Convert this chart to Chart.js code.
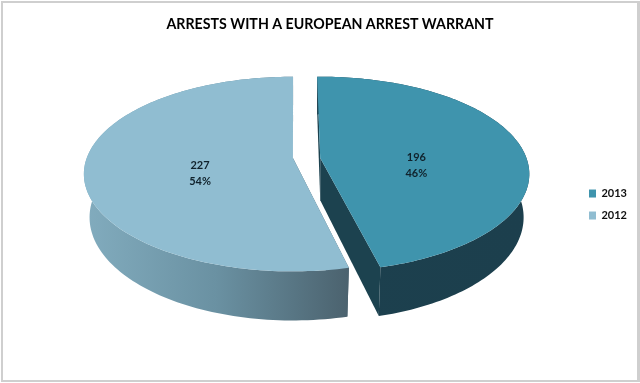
<!DOCTYPE html>
<html>
<head>
<meta charset="utf-8">
<title>Arrests with a European Arrest Warrant</title>
<script src="https://cdn.jsdelivr.net/npm/chart.js@4"></script>
<style>
    body { margin: 0; background: #fff; }
    #wrap { position: relative; width: 640px; height: 383px; }
    #frame { position: absolute; left: 1px; top: 1px; right: 0; bottom: 1px; border: solid #cfcfcf; border-width: 2px 3px 2px 2px; box-sizing: border-box; pointer-events: none; }
</style>
</head>
<body>
<div id="wrap">
    <canvas id="arrestChart" width="640" height="383"></canvas>
    <div id="frame"></div>
</div>
<script>
const categories = ['2013', '2012'];
const arrests = [196, 227];
const shares = ['46%', '54%'];

const topColors = ['#3f94ad', '#90bdd1'];

// tilted camera, everything is a fraction of the radius chart.js gives the pie
const camera = {
    rx: 1.285, ry: 0.59, persp: 0.165, lift: -0.29,
    bottomRx: 1.25, bottomRy: 0.625, bottomDrop: 0.264,
    explode: [0.123, -0.047],
    spin: [0, 0.018],
    labelR: [0.475, 0.45],
    labelShift: [0.083, 0.058]
};

function project(arc, i, angle, bottom) {
    let a = angle + camera.spin[i];
    return rimPoint(arc, i, Math.cos(a), Math.sin(a), arc.outerRadius, bottom);
}

function rimPoint(arc, i, u, v, R, bottom) {
    let w = 1 - camera.persp * v;
    let cx = arc.x + camera.explode[i] * R;
    let cy = arc.y + camera.lift * R + (bottom ? camera.bottomDrop * R : 0);
    let rx = (bottom ? camera.bottomRx : camera.rx) * R;
    let ry = (bottom ? camera.bottomRy : camera.ry) * R;
    return { x: cx + rx * u / w, y: cy + ry * v / w };
}

function fillPath(ctx, points, fill) {
    ctx.beginPath();
    points.forEach(function (p, n) {
        if (n == 0) ctx.moveTo(p.x, p.y);
        else ctx.lineTo(p.x, p.y);
    });
    ctx.closePath();
    ctx.fillStyle = fill;
    ctx.fill();
}

function wallFill(ctx, i, left, right) {
    let g = ctx.createLinearGradient(left, 0, right, 0);
    if (i == 0) {
        g.addColorStop(0, '#1c404e');
        g.addColorStop(1, '#1c3f4d');
    } else {
        g.addColorStop(0, '#82acbe');
        g.addColorStop(0.5, '#6a91a2');
        g.addColorStop(1, '#4b626e');
    }
    return g;
}

const pie3d = {
    id: 'pie3d',
    beforeDatasetDraw(chart) {
        const ctx = chart.ctx;
        const arcs = chart.getDatasetMeta(0).data;
        arcs.forEach(function (arc, i) {
            let R = arc.outerRadius;
            let steps = 140;
            let top = [];
            let bottom = [];
            for (let s = 0; s <= steps; s++) {
                let a = arc.startAngle + (arc.endAngle - arc.startAngle) * s / steps;
                top.push(project(arc, i, a, false));
                bottom.push(project(arc, i, a, true));
            }
            let apexTop = rimPoint(arc, i, 0, 0, R, false);
            let apexBottom = rimPoint(arc, i, 0, 0, R, true);
            let xs = top.map(function (p) { return p.x; });
            let left = Math.min.apply(null, xs);
            let right = Math.max.apply(null, xs);

            // cut faces first, the top covers what should not show
            let cutColor = '#1c424f';
            fillPath(ctx, [top[0], apexTop, apexBottom, bottom[0]], i == 0 ? cutColor : '#4b626e');
            fillPath(ctx, [apexTop, top[steps], bottom[steps], apexBottom], i == 0 ? cutColor : '#4b626e');
            // outer wall
            fillPath(ctx, top.concat(bottom.slice().reverse()), wallFill(ctx, i, left, right));
            // top face
            fillPath(ctx, [apexTop].concat(top), arc.options.backgroundColor);
        });

        // value and share labels
        ctx.fillStyle = '#10222c';
        ctx.font = 'bold 11px Lato';
        ctx.textAlign = 'center';
        ctx.textBaseline = 'middle';
        arcs.forEach(function (arc, i) {
            let R = arc.outerRadius;
            let mid = (arc.startAngle + arc.endAngle) / 2;
            let p = rimPoint(arc, i, Math.cos(mid) * camera.labelR[i], Math.sin(mid) * camera.labelR[i], R, false);
            let y = p.y + camera.labelShift[i] * R;
            ctx.fillText(String(arrests[i]), p.x, y - 8);
            ctx.fillText(shares[i], p.x, y + 8);
        });
        return false;
    }
};

new Chart(document.getElementById('arrestChart'), {
    type: 'pie',
    data: {
        labels: categories,
        datasets: [{
            data: arrests,
            backgroundColor: topColors,
            borderWidth: 0
        }]
    },
    options: {
        responsive: false,
        animation: false,
        rotation: -1,
        layout: { padding: { left: 23, right: 3, top: 0, bottom: 18 } },
        plugins: {
            title: {
                display: true,
                text: 'ARRESTS WITH A EUROPEAN ARREST WARRANT',
                color: '#000',
                font: { family: 'Lato', size: 14.2, weight: 'bold' },
                padding: { top: 16, bottom: 11 }
            },
            legend: {
                position: 'right',
                fullSize: false,
                labels: {
                    boxWidth: 7,
                    boxHeight: 8,
                    padding: 11,
                    color: '#111',
                    font: { family: 'Lato', size: 11, weight: 'bold' }
                }
            },
            tooltip: { enabled: false }
        }
    },
    plugins: [pie3d]
});
</script>
</body>
</html>
